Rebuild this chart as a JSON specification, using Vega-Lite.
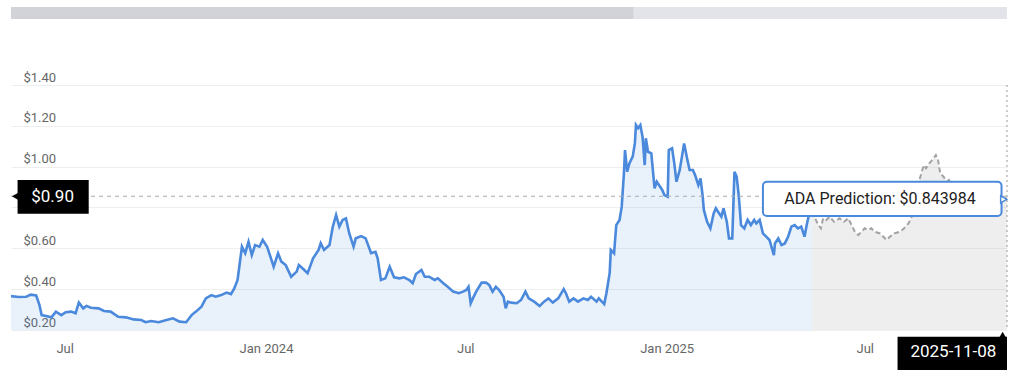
{
  "$schema": "https://vega.github.io/schema/vega-lite/v6.json",
  "padding": {"left": 5, "top": 7, "right": 0, "bottom": 0},
  "background": "white",
  "config": {"view": {"stroke": null}, "font": "Roboto"},
  "bounds": "flush",
  "spacing": 66,
  "datasets": {
    "nav": [
      {"start": "2023-05-13", "end": "2024-12-02", "part": "window"},
      {"start": "2024-12-02", "end": "2025-11-08", "part": "rest"}
    ],
    "hist": [
      {"date": "2023-05-13", "price": 0.366},
      {"date": "2023-05-20", "price": 0.362},
      {"date": "2023-05-27", "price": 0.363},
      {"date": "2023-05-31", "price": 0.373},
      {"date": "2023-06-05", "price": 0.369},
      {"date": "2023-06-08", "price": 0.322},
      {"date": "2023-06-10", "price": 0.273},
      {"date": "2023-06-14", "price": 0.269},
      {"date": "2023-06-19", "price": 0.262},
      {"date": "2023-06-23", "price": 0.29},
      {"date": "2023-06-28", "price": 0.273},
      {"date": "2023-07-02", "price": 0.287},
      {"date": "2023-07-07", "price": 0.29},
      {"date": "2023-07-11", "price": 0.282},
      {"date": "2023-07-14", "price": 0.334},
      {"date": "2023-07-18", "price": 0.306},
      {"date": "2023-07-21", "price": 0.318},
      {"date": "2023-07-25", "price": 0.309},
      {"date": "2023-08-01", "price": 0.306},
      {"date": "2023-08-06", "price": 0.293},
      {"date": "2023-08-12", "price": 0.29},
      {"date": "2023-08-19", "price": 0.265},
      {"date": "2023-08-26", "price": 0.262},
      {"date": "2023-09-02", "price": 0.252},
      {"date": "2023-09-09", "price": 0.249},
      {"date": "2023-09-13", "price": 0.238},
      {"date": "2023-09-18", "price": 0.244},
      {"date": "2023-09-25", "price": 0.238},
      {"date": "2023-10-02", "price": 0.249},
      {"date": "2023-10-08", "price": 0.257},
      {"date": "2023-10-14", "price": 0.241},
      {"date": "2023-10-20", "price": 0.238},
      {"date": "2023-10-25", "price": 0.273},
      {"date": "2023-10-29", "price": 0.29},
      {"date": "2023-11-03", "price": 0.314},
      {"date": "2023-11-07", "price": 0.355},
      {"date": "2023-11-12", "price": 0.371},
      {"date": "2023-11-16", "price": 0.363},
      {"date": "2023-11-21", "price": 0.371},
      {"date": "2023-11-26", "price": 0.383},
      {"date": "2023-11-30", "price": 0.376},
      {"date": "2023-12-03", "price": 0.404},
      {"date": "2023-12-06", "price": 0.445},
      {"date": "2023-12-08", "price": 0.527},
      {"date": "2023-12-10", "price": 0.608},
      {"date": "2023-12-13", "price": 0.576},
      {"date": "2023-12-16", "price": 0.632},
      {"date": "2023-12-19", "price": 0.567},
      {"date": "2023-12-22", "price": 0.616},
      {"date": "2023-12-26", "price": 0.608},
      {"date": "2023-12-29", "price": 0.641},
      {"date": "2024-01-02", "price": 0.608},
      {"date": "2024-01-05", "price": 0.559},
      {"date": "2024-01-08", "price": 0.51},
      {"date": "2024-01-12", "price": 0.576},
      {"date": "2024-01-15", "price": 0.535},
      {"date": "2024-01-19", "price": 0.518},
      {"date": "2024-01-24", "price": 0.461},
      {"date": "2024-01-29", "price": 0.486},
      {"date": "2024-01-31", "price": 0.518},
      {"date": "2024-02-05", "price": 0.494},
      {"date": "2024-02-08", "price": 0.478},
      {"date": "2024-02-13", "price": 0.551},
      {"date": "2024-02-18", "price": 0.592},
      {"date": "2024-02-20", "price": 0.625},
      {"date": "2024-02-23", "price": 0.592},
      {"date": "2024-02-28", "price": 0.616},
      {"date": "2024-03-02", "price": 0.706},
      {"date": "2024-03-05", "price": 0.763},
      {"date": "2024-03-08", "price": 0.706},
      {"date": "2024-03-11", "price": 0.739},
      {"date": "2024-03-14", "price": 0.747},
      {"date": "2024-03-17", "price": 0.674},
      {"date": "2024-03-21", "price": 0.608},
      {"date": "2024-03-23", "price": 0.649},
      {"date": "2024-03-28", "price": 0.66},
      {"date": "2024-04-01", "price": 0.649},
      {"date": "2024-04-06", "price": 0.576},
      {"date": "2024-04-10", "price": 0.583},
      {"date": "2024-04-12", "price": 0.551},
      {"date": "2024-04-15", "price": 0.445},
      {"date": "2024-04-19", "price": 0.453},
      {"date": "2024-04-23", "price": 0.51},
      {"date": "2024-04-27", "price": 0.458},
      {"date": "2024-05-02", "price": 0.453},
      {"date": "2024-05-06", "price": 0.458},
      {"date": "2024-05-11", "price": 0.445},
      {"date": "2024-05-14", "price": 0.429},
      {"date": "2024-05-17", "price": 0.474},
      {"date": "2024-05-22", "price": 0.494},
      {"date": "2024-05-25", "price": 0.461},
      {"date": "2024-05-29", "price": 0.461},
      {"date": "2024-06-03", "price": 0.445},
      {"date": "2024-06-06", "price": 0.453},
      {"date": "2024-06-11", "price": 0.429},
      {"date": "2024-06-15", "price": 0.412},
      {"date": "2024-06-20", "price": 0.388},
      {"date": "2024-06-25", "price": 0.38},
      {"date": "2024-06-29", "price": 0.388},
      {"date": "2024-07-02", "price": 0.396},
      {"date": "2024-07-04", "price": 0.412},
      {"date": "2024-07-06", "price": 0.331},
      {"date": "2024-07-08", "price": 0.355},
      {"date": "2024-07-11", "price": 0.388},
      {"date": "2024-07-16", "price": 0.432},
      {"date": "2024-07-20", "price": 0.432},
      {"date": "2024-07-23", "price": 0.42},
      {"date": "2024-07-26", "price": 0.388},
      {"date": "2024-07-29", "price": 0.412},
      {"date": "2024-08-01", "price": 0.396},
      {"date": "2024-08-05", "price": 0.363},
      {"date": "2024-08-07", "price": 0.306},
      {"date": "2024-08-09", "price": 0.339},
      {"date": "2024-08-12", "price": 0.334},
      {"date": "2024-08-17", "price": 0.331},
      {"date": "2024-08-21", "price": 0.347},
      {"date": "2024-08-25", "price": 0.388},
      {"date": "2024-08-28", "price": 0.355},
      {"date": "2024-09-02", "price": 0.339},
      {"date": "2024-09-07", "price": 0.318},
      {"date": "2024-09-11", "price": 0.339},
      {"date": "2024-09-15", "price": 0.355},
      {"date": "2024-09-19", "price": 0.334},
      {"date": "2024-09-24", "price": 0.355},
      {"date": "2024-09-29", "price": 0.4},
      {"date": "2024-10-01", "price": 0.38},
      {"date": "2024-10-04", "price": 0.339},
      {"date": "2024-10-08", "price": 0.355},
      {"date": "2024-10-12", "price": 0.339},
      {"date": "2024-10-17", "price": 0.355},
      {"date": "2024-10-21", "price": 0.347},
      {"date": "2024-10-24", "price": 0.363},
      {"date": "2024-10-29", "price": 0.339},
      {"date": "2024-10-31", "price": 0.355},
      {"date": "2024-11-05", "price": 0.327},
      {"date": "2024-11-07", "price": 0.38},
      {"date": "2024-11-10", "price": 0.48},
      {"date": "2024-11-11", "price": 0.592},
      {"date": "2024-11-14", "price": 0.576},
      {"date": "2024-11-16", "price": 0.714},
      {"date": "2024-11-19", "price": 0.739},
      {"date": "2024-11-21", "price": 0.804},
      {"date": "2024-11-23", "price": 0.967},
      {"date": "2024-11-24", "price": 1.081},
      {"date": "2024-11-26", "price": 0.975},
      {"date": "2024-11-28", "price": 1.016},
      {"date": "2024-12-01", "price": 1.049},
      {"date": "2024-12-03", "price": 1.114},
      {"date": "2024-12-04", "price": 1.204},
      {"date": "2024-12-06", "price": 1.188},
      {"date": "2024-12-08", "price": 1.204},
      {"date": "2024-12-10", "price": 1.147},
      {"date": "2024-12-12", "price": 1.008},
      {"date": "2024-12-13", "price": 1.139},
      {"date": "2024-12-15", "price": 1.073},
      {"date": "2024-12-18", "price": 1.065},
      {"date": "2024-12-20", "price": 0.951},
      {"date": "2024-12-21", "price": 0.894},
      {"date": "2024-12-23", "price": 0.926},
      {"date": "2024-12-25", "price": 0.91},
      {"date": "2024-12-28", "price": 0.886},
      {"date": "2024-12-30", "price": 0.861},
      {"date": "2025-01-02", "price": 0.853},
      {"date": "2025-01-03", "price": 1.081},
      {"date": "2025-01-06", "price": 1.09},
      {"date": "2025-01-08", "price": 1.016},
      {"date": "2025-01-10", "price": 0.926},
      {"date": "2025-01-13", "price": 0.984},
      {"date": "2025-01-15", "price": 1.049},
      {"date": "2025-01-17", "price": 1.114},
      {"date": "2025-01-20", "price": 1.033},
      {"date": "2025-01-22", "price": 0.984},
      {"date": "2025-01-25", "price": 0.984},
      {"date": "2025-01-27", "price": 0.959},
      {"date": "2025-01-30", "price": 0.91},
      {"date": "2025-02-01", "price": 0.943},
      {"date": "2025-02-03", "price": 0.853},
      {"date": "2025-02-04", "price": 0.788},
      {"date": "2025-02-07", "price": 0.73},
      {"date": "2025-02-10", "price": 0.698},
      {"date": "2025-02-13", "price": 0.771},
      {"date": "2025-02-15", "price": 0.796},
      {"date": "2025-02-17", "price": 0.779},
      {"date": "2025-02-20", "price": 0.755},
      {"date": "2025-02-22", "price": 0.796},
      {"date": "2025-02-25", "price": 0.73},
      {"date": "2025-02-27", "price": 0.649},
      {"date": "2025-03-02", "price": 0.649},
      {"date": "2025-03-04", "price": 0.975},
      {"date": "2025-03-06", "price": 0.951},
      {"date": "2025-03-08", "price": 0.853},
      {"date": "2025-03-10", "price": 0.714},
      {"date": "2025-03-13", "price": 0.698},
      {"date": "2025-03-16", "price": 0.739},
      {"date": "2025-03-19", "price": 0.714},
      {"date": "2025-03-22", "price": 0.739},
      {"date": "2025-03-24", "price": 0.722},
      {"date": "2025-03-27", "price": 0.739},
      {"date": "2025-03-30", "price": 0.673},
      {"date": "2025-04-02", "price": 0.657},
      {"date": "2025-04-05", "price": 0.641},
      {"date": "2025-04-09", "price": 0.567},
      {"date": "2025-04-10", "price": 0.624},
      {"date": "2025-04-13", "price": 0.649},
      {"date": "2025-04-16", "price": 0.616},
      {"date": "2025-04-19", "price": 0.624},
      {"date": "2025-04-22", "price": 0.657},
      {"date": "2025-04-25", "price": 0.706},
      {"date": "2025-04-28", "price": 0.714},
      {"date": "2025-05-01", "price": 0.698},
      {"date": "2025-05-04", "price": 0.706},
      {"date": "2025-05-07", "price": 0.657},
      {"date": "2025-05-09", "price": 0.714},
      {"date": "2025-05-11", "price": 0.763},
      {"date": "2025-05-14", "price": 0.78}
    ],
    "pred": [
      {"date": "2025-05-14", "price": 0.78},
      {"date": "2025-05-19", "price": 0.72},
      {"date": "2025-05-22", "price": 0.698},
      {"date": "2025-05-24", "price": 0.747},
      {"date": "2025-05-27", "price": 0.739},
      {"date": "2025-05-30", "price": 0.755},
      {"date": "2025-06-03", "price": 0.73},
      {"date": "2025-06-08", "price": 0.747},
      {"date": "2025-06-12", "price": 0.73},
      {"date": "2025-06-16", "price": 0.747},
      {"date": "2025-06-19", "price": 0.714},
      {"date": "2025-06-22", "price": 0.681},
      {"date": "2025-06-25", "price": 0.665},
      {"date": "2025-06-28", "price": 0.681},
      {"date": "2025-07-01", "price": 0.698},
      {"date": "2025-07-04", "price": 0.69},
      {"date": "2025-07-07", "price": 0.698},
      {"date": "2025-07-10", "price": 0.681},
      {"date": "2025-07-15", "price": 0.673},
      {"date": "2025-07-18", "price": 0.657},
      {"date": "2025-07-21", "price": 0.641},
      {"date": "2025-07-24", "price": 0.657},
      {"date": "2025-07-28", "price": 0.673},
      {"date": "2025-08-02", "price": 0.681},
      {"date": "2025-08-06", "price": 0.698},
      {"date": "2025-08-10", "price": 0.722},
      {"date": "2025-08-13", "price": 0.755},
      {"date": "2025-08-17", "price": 0.869},
      {"date": "2025-08-20", "price": 0.935},
      {"date": "2025-08-24", "price": 1.008},
      {"date": "2025-08-26", "price": 0.992},
      {"date": "2025-08-29", "price": 1.016},
      {"date": "2025-09-02", "price": 1.041},
      {"date": "2025-09-04", "price": 1.057},
      {"date": "2025-09-06", "price": 1.033},
      {"date": "2025-09-08", "price": 0.967},
      {"date": "2025-09-11", "price": 0.951},
      {"date": "2025-09-14", "price": 0.926},
      {"date": "2025-09-16", "price": 0.935},
      {"date": "2025-09-23", "price": 0.9},
      {"date": "2025-10-02", "price": 0.88},
      {"date": "2025-10-11", "price": 0.87},
      {"date": "2025-10-20", "price": 0.862},
      {"date": "2025-10-29", "price": 0.855},
      {"date": "2025-11-08", "price": 0.844}
    ]
  },
  "vconcat": [
    {
      "width": 996,
      "height": 12,
      "data": {"name": "nav"},
      "mark": {"type": "rect"},
      "encoding": {
        "x": {"field": "start", "type": "temporal", "axis": null,
              "scale": {"domain": [{"year": 2023, "month": 5, "date": 13, "utc": true}, {"year": 2025, "month": 11, "date": 8, "utc": true}], "nice": false}},
        "x2": {"field": "end"},
        "color": {"field": "part", "type": "nominal", "legend": null,
                  "scale": {"domain": ["window", "rest"], "range": ["#d1d3d8", "#e3e4e9"]}}
      }
    },
    {
      "width": 996,
      "height": 245,
      "layer": [
        {
          "data": {"name": "pred"},
          "mark": {"type": "area", "color": "#9a9a9a", "opacity": 0.17},
          "encoding": {
            "x": {"field": "date", "type": "temporal", "title": null,
                  "scale": {"domain": [{"year": 2023, "month": 5, "date": 13, "utc": true}, {"year": 2025, "month": 11, "date": 8, "utc": true}], "nice": false},
                  "axis": {"grid": false, "domain": false, "ticks": false, "labelPadding": 12, "labelFontSize": 13, "labelColor": "#666666", "labelFont": "Roboto",
                           "tickCount": {"interval": "month", "step": 6},
                           "labelExpr": "month(datum.value) == 0 ? timeFormat(datum.value, '%b %Y') : timeFormat(datum.value, '%b')"}},
            "y": {"field": "price", "type": "quantitative", "title": null,
                  "scale": {"domain": [0.2, 1.4], "nice": false, "zero": false},
                  "axis": {"values": [0.2, 0.4, 0.6, 0.8, 1.0, 1.2, 1.4], "domain": false, "ticks": false, "gridColor": "#eeeeee",
                           "labelAlign": "left", "labelBaseline": "alphabetic", "labelPadding": -12, "labelOffset": -4,
                           "labelFontSize": 13, "labelColor": "#666666", "labelFont": "Roboto",
                           "labelExpr": "abs(datum.value - 0.8) < 0.001 ? '' : '$' + format(datum.value, '.2f')"}},
            "y2": {"datum": 0.2}
          }
        },
        {
          "data": {"name": "hist"},
          "mark": {"type": "area", "color": "#4a89dc", "opacity": 0.12},
          "encoding": {
            "x": {"field": "date", "type": "temporal"},
            "y": {"field": "price", "type": "quantitative"},
            "y2": {"datum": 0.2}
          }
        },
        {
          "data": {"name": "pred"},
          "mark": {"type": "line", "color": "#a3a3a3", "strokeWidth": 2, "strokeDash": [5, 3]},
          "encoding": {
            "x": {"field": "date", "type": "temporal"},
            "y": {"field": "price", "type": "quantitative"}
          }
        },
        {
          "data": {"name": "hist"},
          "mark": {"type": "line", "color": "#4a89dc", "strokeWidth": 2.6},
          "encoding": {
            "x": {"field": "date", "type": "temporal"},
            "y": {"field": "price", "type": "quantitative"}
          }
        },
        {
          "data": {"values": [{}]},
          "mark": {"type": "rule", "color": "#aaaaaa", "strokeWidth": 1, "strokeDash": [4, 4]},
          "encoding": {"y": {"datum": 0.855}}
        },
        {
          "data": {"values": [{}]},
          "mark": {"type": "rule", "color": "#aaaaaa", "strokeWidth": 1.2, "strokeDash": [2, 3]},
          "encoding": {"x": {"datum": {"year": 2025, "month": 11, "date": 8, "utc": true}}}
        },
        {
          "data": {"values": [{}]},
          "mark": {"type": "rect", "color": "black"},
          "encoding": {
            "x": {"datum": {"year": 2023, "month": 5, "date": 19, "utc": true}},
            "x2": {"datum": {"year": 2023, "month": 7, "date": 23, "utc": true}},
            "y": {"datum": 0.935},
            "y2": {"datum": 0.77}
          }
        },
        {
          "data": {"values": [{}]},
          "mark": {"type": "point", "shape": "triangle-left", "filled": true, "color": "black", "size": 60, "opacity": 1},
          "encoding": {
            "x": {"datum": {"year": 2023, "month": 5, "date": 17, "utc": true}},
            "y": {"datum": 0.855}
          }
        },
        {
          "data": {"values": [{}]},
          "mark": {"type": "text", "text": "$0.90", "color": "white", "fontSize": 17, "font": "Roboto", "align": "center", "baseline": "middle"},
          "encoding": {
            "x": {"datum": {"year": 2023, "month": 6, "date": 20, "utc": true}},
            "y": {"datum": 0.852}
          }
        },
        {
          "data": {"values": [{}]},
          "mark": {"type": "rect", "fill": "white", "stroke": "#4a89dc", "strokeWidth": 2, "cornerRadius": 4},
          "encoding": {
            "x": {"datum": {"year": 2025, "month": 3, "date": 30, "utc": true}},
            "x2": {"datum": {"year": 2025, "month": 11, "date": 3, "utc": true}},
            "y": {"datum": 0.926},
            "y2": {"datum": 0.758}
          }
        },
        {
          "data": {"values": [{}]},
          "mark": {"type": "point", "shape": "triangle-right", "filled": true, "fill": "white", "stroke": "#4a89dc", "strokeWidth": 1.5, "size": 50, "opacity": 1},
          "encoding": {
            "x": {"datum": {"year": 2025, "month": 11, "date": 5, "utc": true}},
            "y": {"datum": 0.84}
          }
        },
        {
          "data": {"values": [{}]},
          "mark": {"type": "text", "text": "ADA Prediction: $0.843984", "color": "#222222", "fontSize": 16, "font": "Roboto", "align": "center", "baseline": "middle"},
          "encoding": {
            "x": {"datum": {"year": 2025, "month": 7, "date": 15, "utc": true}},
            "y": {"datum": 0.843}
          }
        },
        {
          "data": {"values": [{}]},
          "mark": {"type": "rect", "color": "black"},
          "encoding": {
            "x": {"datum": {"year": 2025, "month": 7, "date": 31, "utc": true}},
            "x2": {"datum": {"year": 2025, "month": 11, "date": 8, "utc": true}},
            "y": {"datum": 0.167},
            "y2": {"datum": 0.004}
          }
        },
        {
          "data": {"values": [{}]},
          "mark": {"type": "point", "shape": "triangle-up", "filled": true, "color": "black", "size": 40, "opacity": 1},
          "encoding": {
            "x": {"datum": {"year": 2025, "month": 11, "date": 4, "utc": true}},
            "y": {"datum": 0.178}
          }
        },
        {
          "data": {"values": [{}]},
          "mark": {"type": "text", "text": "2025-11-08", "color": "white", "fontSize": 17, "font": "Roboto", "align": "center", "baseline": "middle"},
          "encoding": {
            "x": {"datum": {"year": 2025, "month": 9, "date": 20, "utc": true}},
            "y": {"datum": 0.094}
          }
        }
      ]
    }
  ]
}
